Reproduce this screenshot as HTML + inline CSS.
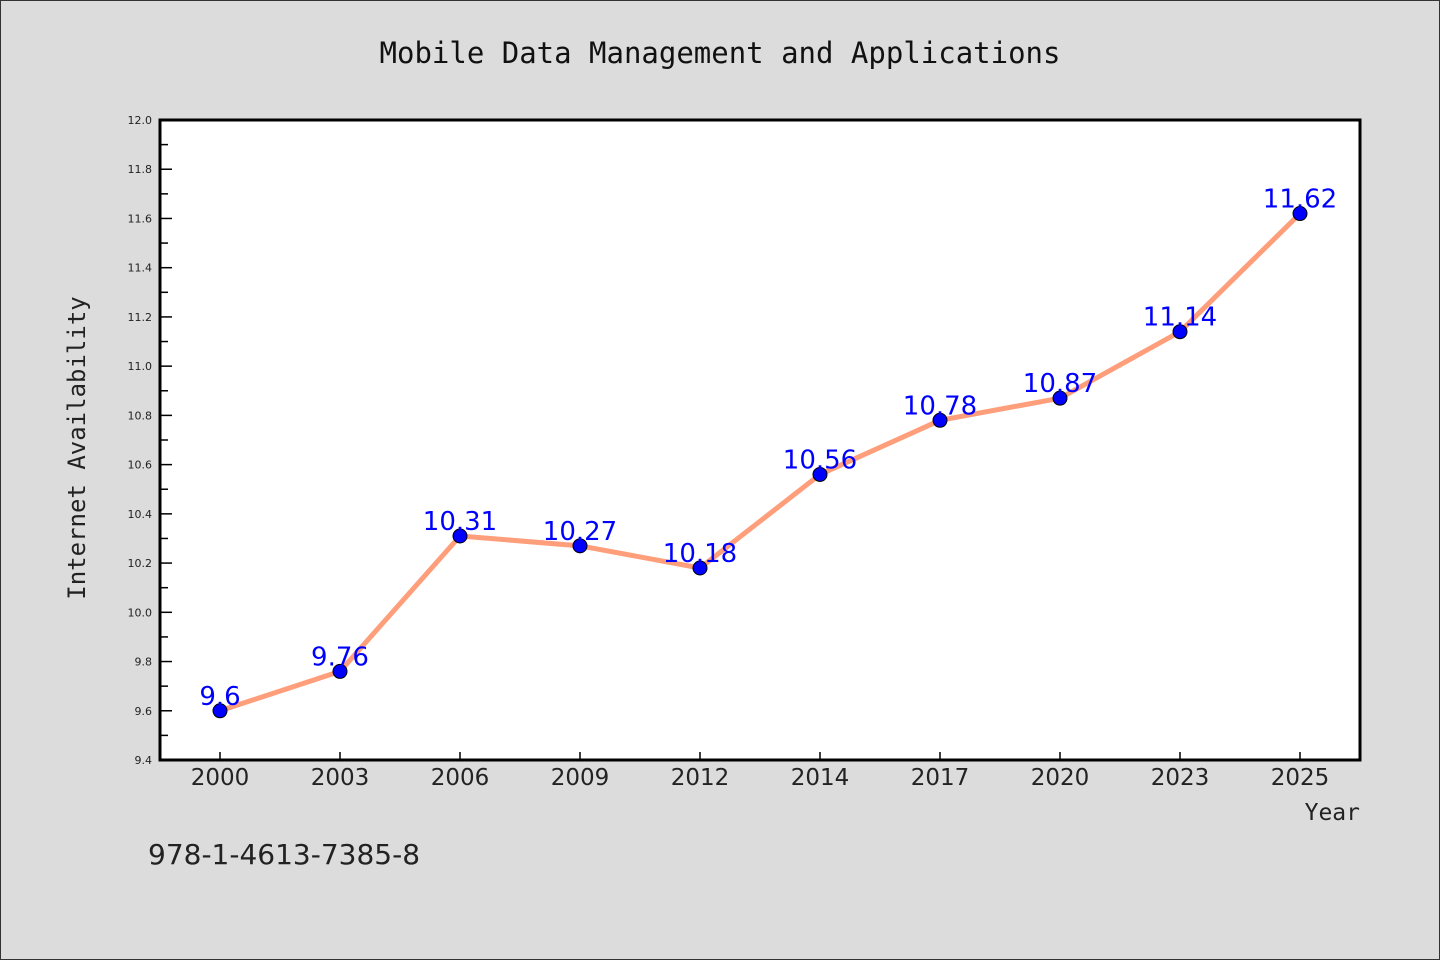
<!DOCTYPE html>
<html><head><meta charset="utf-8"><style>
html,body{margin:0;padding:0;background:#dcdcdc}
svg{display:block}
.sans{font-family:"DejaVu Sans","Liberation Sans",sans-serif}
.mono{font-family:"DejaVu Sans Mono","Liberation Mono",monospace}
</style></head><body>
<svg id="chart" width="1440" height="960" xmlns="http://www.w3.org/2000/svg">
<rect x="0.5" y="0.5" width="1439" height="959" fill="#dcdcdc" stroke="#333" stroke-width="1"/>
<text class="mono" x="720" y="63" text-anchor="middle" font-size="29" fill="#111">Mobile Data Management and Applications</text>
<rect x="160" y="120" width="1200" height="640" fill="#fff"/>
<g id="yaxis"></g>
<g id="xaxis"></g>
<g id="series"></g>
<rect x="160" y="120" width="1200" height="640" fill="none" stroke="#000" stroke-width="3"/>
<text class="mono" transform="translate(85,448) rotate(-90)" text-anchor="middle" font-size="24" fill="#222">Internet Availability</text>
<text class="mono" x="1360" y="820" text-anchor="end" font-size="23" fill="#222">Year</text>
<text class="sans" x="148" y="864" font-size="28" fill="#222">978-1-4613-7385-8</text>
</svg>
<script>
const categories=["2000","2003","2006","2009","2012","2014","2017","2020","2023","2025"];
const values=[9.6,9.76,10.31,10.27,10.18,10.56,10.78,10.87,11.14,11.62];
const valueLabels=["9.6","9.76","10.31","10.27","10.18","10.56","10.78","10.87","11.14","11.62"];
const yTicks=["9.4","9.6","9.8","10.0","10.2","10.4","10.6","10.8","11.0","11.2","11.4","11.6","11.8","12.0"];
const yMin=9.4,yMax=12.0;
const ns="http://www.w3.org/2000/svg";
function y(v){return 760-(v-yMin)/(yMax-yMin)*640;}
function x(i){return 220+i*120;}
function mk(tag,attrs,parent){const e=document.createElementNS(ns,tag);for(const k in attrs)e.setAttribute(k,attrs[k]);parent.appendChild(e);return e;}
const ya=document.getElementById('yaxis'),xa=document.getElementById('xaxis'),se=document.getElementById('series');
yTicks.forEach((t,i)=>{const v=parseFloat(t),yy=y(v);
 const l=mk('line',{x1:160,x2:172,y1:yy,y2:yy,stroke:'#000','stroke-width':1.5},ya);
 
 const tx=mk('text',{x:152,y:yy+4,'text-anchor':'end','font-size':11,fill:'#222','class':'sans'},ya);tx.textContent=t;
 
 if(i<yTicks.length-1){const ym=y(v+0.1);const m=mk('line',{x1:160,x2:168,y1:ym,y2:ym,stroke:'#000','stroke-width':1.5},ya);
 }
});
categories.forEach((c,i)=>{
 const l=mk('line',{x1:x(i),x2:x(i),y1:760,y2:752,stroke:'#000','stroke-width':1.5},xa);
 
 const t=mk('text',{x:x(i),y:785,'text-anchor':'middle','font-size':23,fill:'#222','class':'sans'},xa);t.textContent=c;
 
});
const line=mk('polyline',{points:values.map((v,i)=>x(i)+','+y(v)).join(' '),fill:'none',stroke:'#ff9e7a','stroke-width':5,'stroke-linejoin':'round'},se);

values.forEach((v,i)=>{
 const c=mk('circle',{cx:x(i),cy:y(v),r:7,fill:'#0000ff',stroke:'#000','stroke-width':1},se);
 
});
values.forEach((v,i)=>{
 const t=mk('text',{x:x(i),y:y(v)-6,'text-anchor':'middle','font-size':26,fill:'#0000ff','class':'sans'},se);t.textContent=valueLabels[i];
 
});
</script>
</body></html>
